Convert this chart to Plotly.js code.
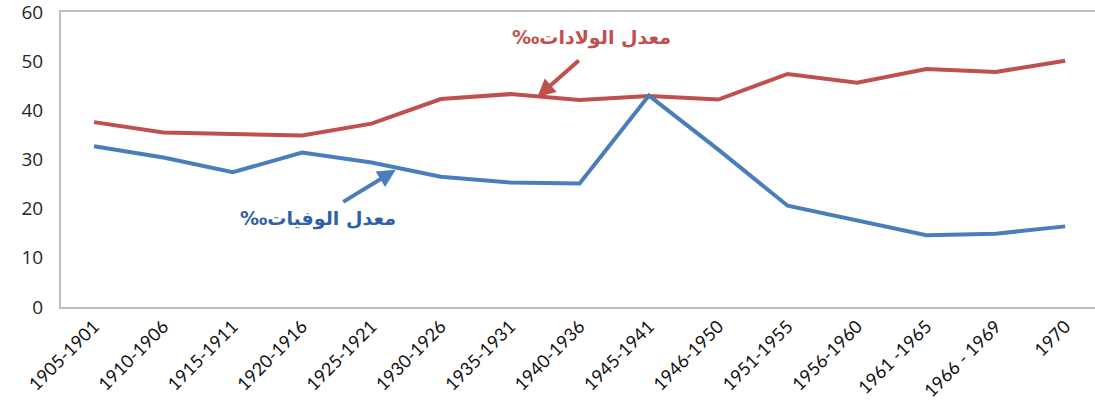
<!DOCTYPE html>
<html>
<head>
<meta charset="utf-8">
<script src="https://cdn.plot.ly/plotly-3.0.1.min.js"></script>
<style>html,body{margin:0;padding:0;background:#fff;}#chart{width:1095px;height:403px;}</style>
</head>
<body>
<div id="chart"></div>
<script>
const categories = ["1905-1901","1910-1906","1915-1911","1920-1916","1925-1921","1930-1926","1935-1931","1940-1936","1945-1941","1946-1950","1951-1955","1956-1960","1961 -1965","1966 - 1969","1970"];
const birthRate = [37.6, 35.5, 35.2, 34.9, 37.3, 42.3, 43.3, 42.1, 42.9, 42.2, 47.4, 45.6, 48.4, 47.8, 50.1];
const deathRate = [32.7, 30.4, 27.4, 31.4, 29.4, 26.5, 25.3, 25.1, 43.0, 32.0, 20.6, 17.7, 14.6, 14.9, 16.4];
const yTicks = [0, 10, 20, 30, 40, 50, 60];
const birthLabel = "‰معدل الولادات";
const deathLabel = "‰معدل الوفيات";

const red = "#C0504D", blue = "#4A7EBB";
const traces = [
  {x: categories, y: birthRate, type: "scatter", mode: "lines", line: {color: red, width: 4}, name: birthLabel},
  {x: categories, y: deathRate, type: "scatter", mode: "lines", line: {color: blue, width: 4}, name: deathLabel}
];
const layout = {
  width: 1095, height: 403,
  margin: {l: 61, r: 0, t: 12, b: 96},
  showlegend: false,
  paper_bgcolor: "#fff", plot_bgcolor: "#fff",
  xaxis: {
    type: "category", range: [-0.476, 14.43],
    showline: true, linecolor: "#BFBFBF", linewidth: 2, mirror: true,
    showgrid: false, zeroline: false, ticks: "",
    tickangle: -45, tickfont: {family: "Lato, 'Open Sans', sans-serif", size: 18, color: "#111"}
  },
  yaxis: {
    range: [0, 60], tickmode: "array", tickvals: yTicks, ticktext: yTicks.map(String),
    ticklabeloverflow: "allow", ticklabelstandoff: 12,
    showline: true, linecolor: "#BFBFBF", linewidth: 2,
    showgrid: false, zeroline: false, ticks: "", ticklen: 0,
    tickfont: {family: "'Open Sans', Lato, sans-serif", size: 19, color: "#262626"}
  },
  annotations: [
    {x: 6.39, y: 42.7, xref: "x", yref: "y", text: "", showarrow: true, ax: 43, ay: -38,
     arrowcolor: red, arrowwidth: 4, arrowhead: 2, arrowsize: 0.9},
    {x: 4.35, y: 27.9, xref: "x", yref: "y", text: "", showarrow: true, ax: -54, ay: 33,
     arrowcolor: blue, arrowwidth: 4, arrowhead: 2, arrowsize: 0.9},
    {x: (591-61)/1034, y: (403-96-37)/295, xref: "paper", yref: "paper", text: "<b>" + birthLabel + "</b>",
     showarrow: false, font: {family: "'DejaVu Sans', sans-serif", size: 19, color: red}, xanchor: "center", yanchor: "middle"},
    {x: (318-61)/1034, y: (403-96-218)/295, xref: "paper", yref: "paper", text: "<b>" + deathLabel + "</b>",
     showarrow: false, font: {family: "'DejaVu Sans', sans-serif", size: 19, color: "#2F62A5"}, xanchor: "center", yanchor: "middle"}
  ]
};
Plotly.newPlot("chart", traces, layout, {displayModeBar: false, staticPlot: true});
</script>
</body>
</html>
